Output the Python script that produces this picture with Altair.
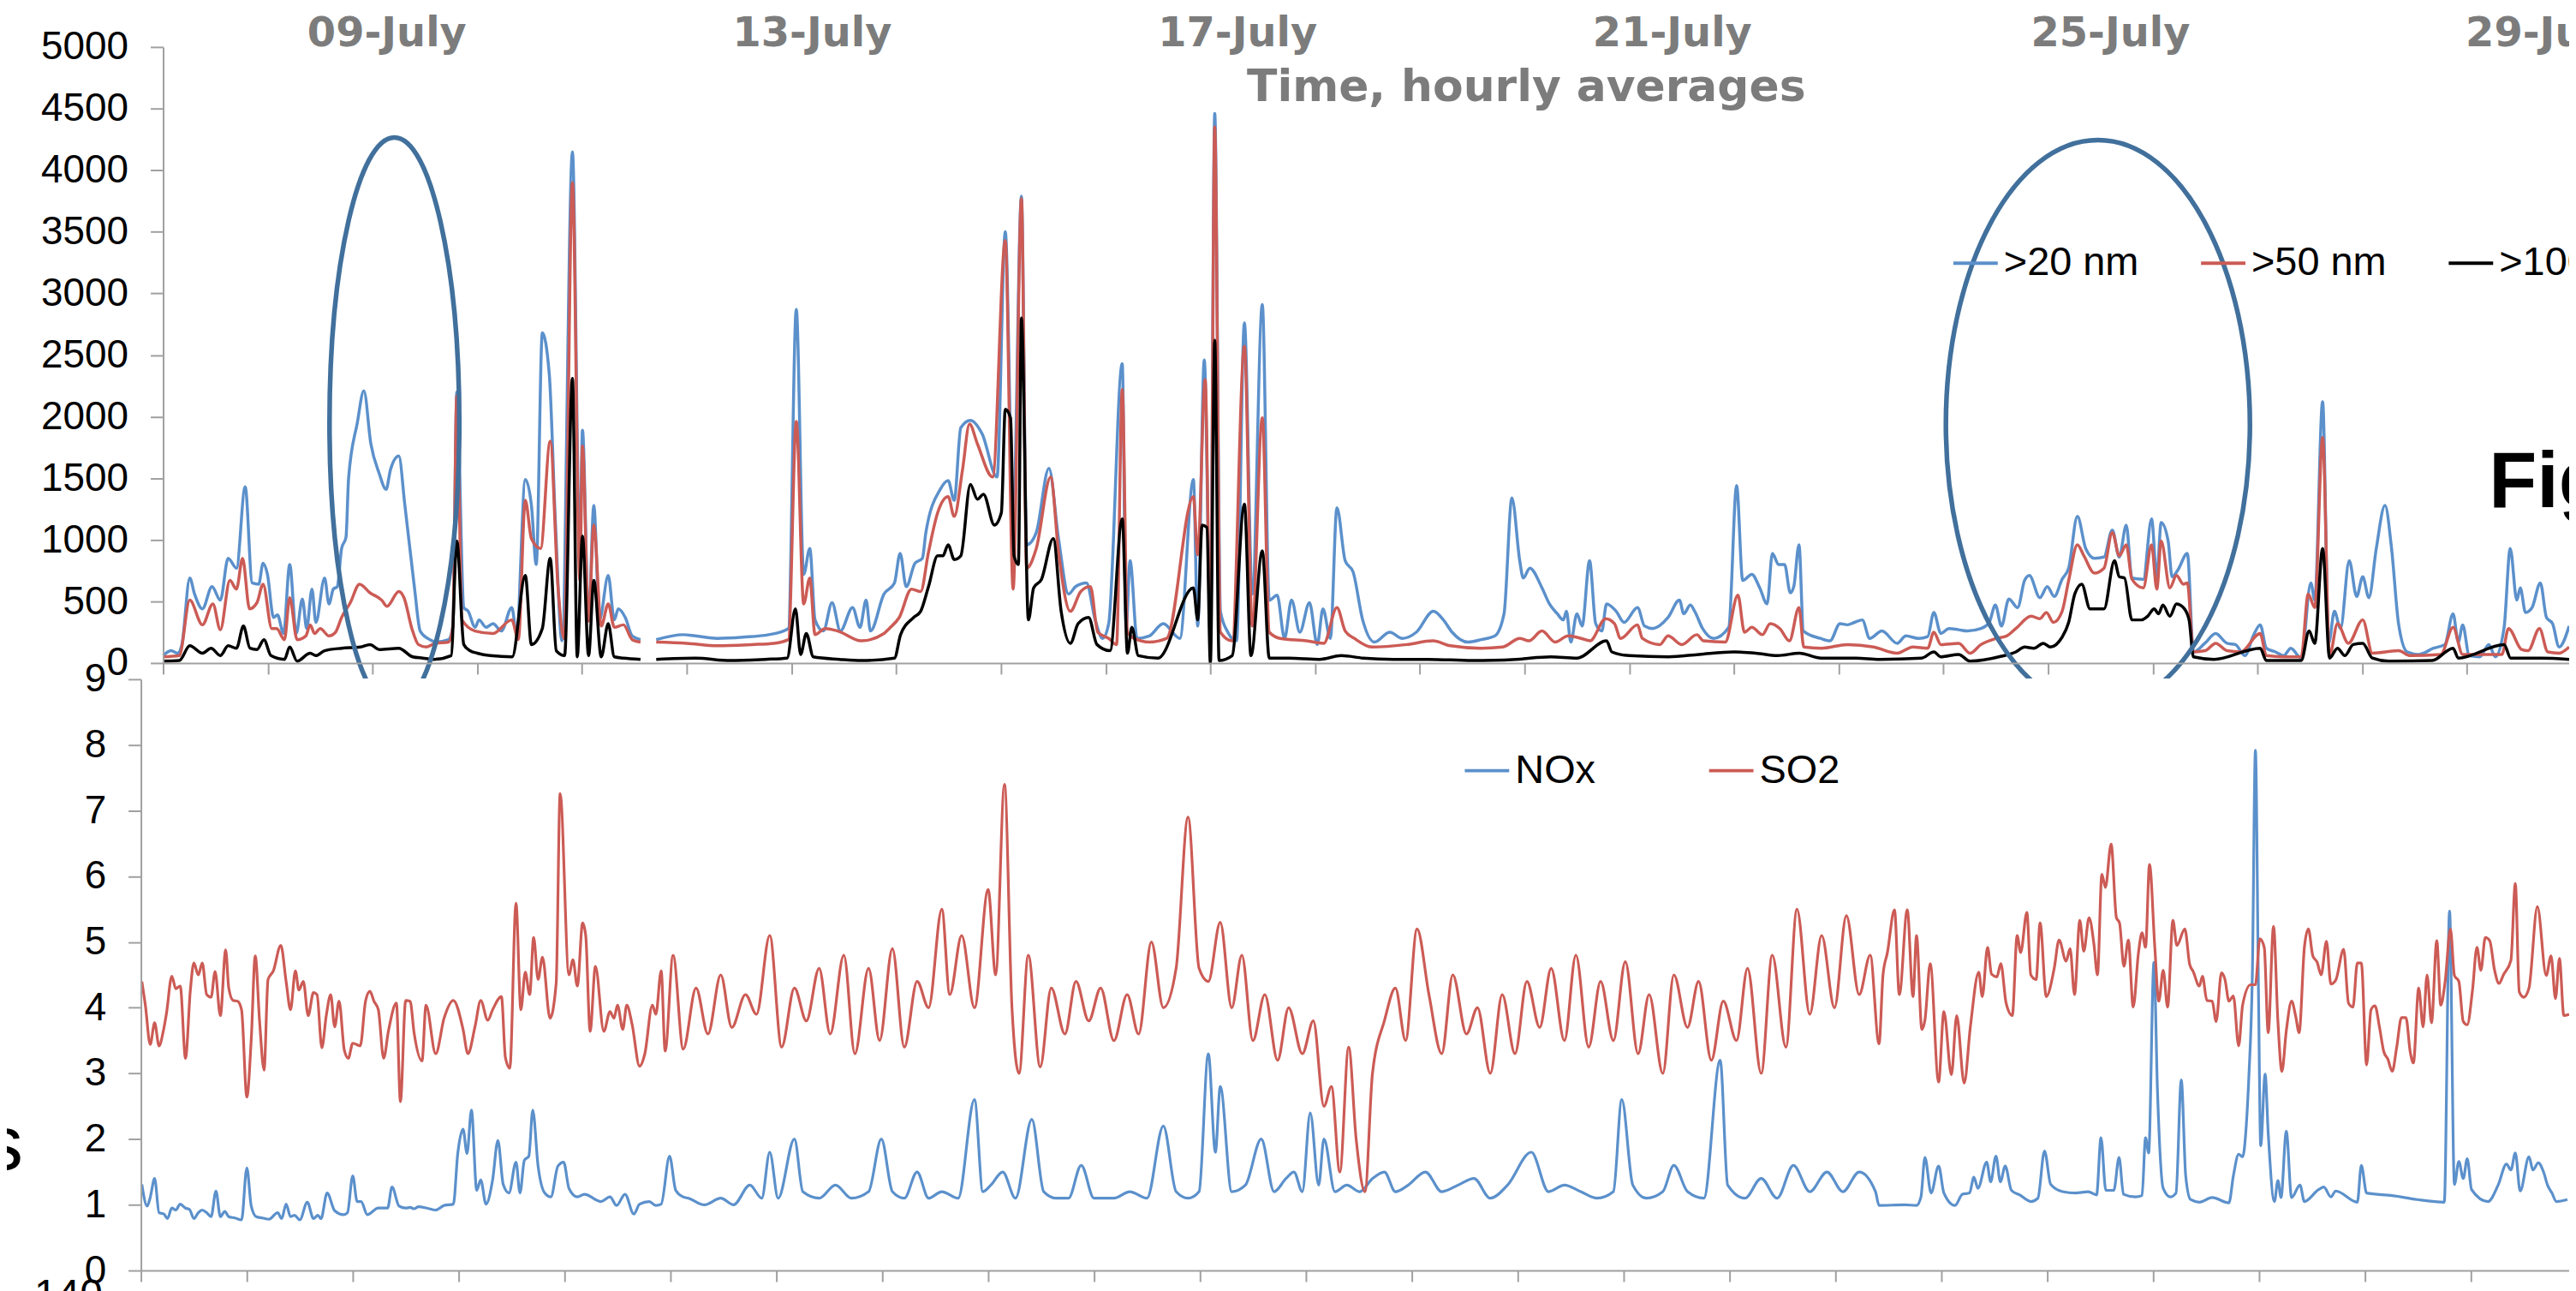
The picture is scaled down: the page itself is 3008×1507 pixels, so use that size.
import altair as alt
import pandas as pd

# ---------------- data (hour since start of record, value) ----------------
# particle number concentrations, top panel
N20 = [(0,60),(1.8,100),(3.3,80),(4.3,150),(6.1,690),(7.2,560),(9.0,440),(11.2,620),(13.1,510),(14.9,850),
       (16.8,770),(18.8,1430),(20.4,650),(21.9,640),(22.9,810),(23.9,720),(25.3,370),(26.2,390),(27.6,240),
       (29.0,800),(30.5,240),(31.9,520),(32.9,280),(34.1,600),(35.0,330),(37.0,690),(38.0,480),(39.0,600),
       (39.9,620),(40.9,930),(41.9,1020),(42.5,1500),(44.5,1950),(46.0,2210),(47.6,1780),(49.5,1540),
       (51.1,1410),(52.1,1570),(54.0,1680),(55.4,1280),(57.6,610),(58.9,260),(61.1,190),(62.4,170),(65.4,190),
       (66.4,300),(67.3,2200),(68.9,450),(69.9,420),(71.5,290),(72.4,350),(74.0,290),(75.6,320),(77.5,260),
       (79.9,450),(81.0,240),(83.0,1490),(84.4,1280),(85.5,800),(86.9,2680),(88.5,2340),(89.9,1140),(91.4,180),
       (93.8,4150),(95.5,880),(96.1,1890),(97.5,350),(98.7,1280),(100.0,350),(102.0,710),(103.4,350),
       (104.3,440),(105.9,370),(107.5,220),(109.4,190),(111.0,None),(113.0,190),(119.2,230),(122.0,220),
       (127.0,200),(132.9,210),(138.8,230),(143.3,280),(145.1,2870),(146.8,720),(148.2,930),(149.4,350),
       (151.3,260),(153.3,490),(155.2,260),(158.0,450),(159.7,290),(161.1,510),(162.1,260),(165.2,560),
       (167.6,650),(168.9,890),(170.3,620),(172.3,810),(174.0,850),(174.8,1060),(178.1,1410),(179.9,1480),
       (181.3,1320),(182.8,1910),(185.0,1970),(187.7,1860),(191.1,1510),(193.0,3500),(194.8,1140),
       (196.7,3790),(197.9,960),(200.1,1060),(203.0,1580),(205.2,1010),(207.5,560),(209.1,620),(211.6,650),
       (213.6,350),(215.3,200),(216.7,320),(219.8,2430),(220.7,300),(221.6,830),(223.2,200),(226.0,220),
       (229.2,320),(233.0,200),(236.1,1490),(237.1,300),(238.6,2460),(240.0,350),(241.0,4460),(242.3,420),
       (244.0,250),(246.0,180),(247.8,2760),(249.6,560),(251.9,2910),(253.5,510),(255.3,550),(257.0,200),
       (258.6,510),(260.5,250),(262.7,490),(264.5,150),(265.8,440),(267.5,200),(269.0,1260),(270.9,830),
       (272.7,740),(274.9,350),(277.6,170),(281.1,250),(284.0,200),(287.2,250),(291.1,420),(293.4,350),
       (295.4,250),(299.0,170),(302.1,190),(305.2,220),(307.3,400),(309.1,1340),(310.9,830),(311.7,690),
       (313.2,770),(316.0,610),(317.7,480),(319.5,400),(320.9,350),(321.6,420),(322.6,170),(324.0,400),
       (325.2,300),(326.9,830),(328.3,320),(329.7,260),(330.8,480),(333.0,420),(334.8,330),(337.9,450),
       (339.5,300),(341.4,280),(344.9,370),(347.5,510),(348.5,400),(350.0,470),(351.0,420),(352.8,280),
       (355.3,200),(358.8,290),(360.6,1440),(362.0,670),(364.1,720),(365.9,610),(367.6,480),(368.8,890),
       (370.2,800),(371.6,800),(372.9,570),(373.7,620),(374.9,960),(375.9,260),(379.8,200),(382.0,180),
       (384.3,320),(386.0,310),(387.6,330),(389.4,350),(391.1,200),(393.9,260),(397.4,160),(399.4,220),
       (402.3,200),(404.4,215),(405.8,410),(407.4,240),(409.3,280),(411.5,270),(413.5,260),(416.6,280),
       (418.5,330),(419.9,470),(421.3,300),(423.0,520),(425.0,450),(426.6,670),(427.7,710),(430.1,530),
       (431.8,620),(433.4,540),(435.2,680),(436.7,770),(438.7,1190),(440.6,930),(442.6,850),(444.8,860),
       (446.7,1080),(448.3,860),(449.9,1120),(451.2,690),(453.8,680),(455.7,1170),(456.9,700),(457.9,1140),
       (459.5,990),(460.4,700),(461.8,760),(463.9,890),(465.3,90),(467.9,160),(470.4,240),(473.0,160),
       (474.9,150),(477.1,60),(479.0,220),(480.6,310),(482.0,120),(484.1,90),(486.0,60),(487.6,120),(490.0,40),
       (492.2,650),(493.1,510),(494.9,2120),(496.3,160),(497.6,420),(499.0,280),(501.0,830),(502.7,540),
       (504.1,700),(505.5,530),(507.2,930),(509.2,1280),(510.7,930),(512.3,320),(514.3,90),(517.0,70),
       (520.3,120),(522.9,150),(524.8,400),(526.0,170),(527.0,310),(528.5,60),(530.9,50),(533.0,150),
       (534.5,50),(536.5,290),(537.9,930),(539.4,510),(540.2,610),(541.4,410),(542.9,450),(544.8,650),
       (546.2,370),(547.6,320),(549.1,130),(551.4,300)]

N50 = [(0,50),(3.7,60),(6.1,510),(9.0,310),(11.4,480),(13.1,270),(15.3,670),(16.8,600),(18.2,850),(19.8,440),
       (21.5,490),(22.9,640),(24.9,280),(26.0,280),(27.8,190),(29.0,530),(30.7,190),(32.7,220),(33.7,310),
       (34.7,240),(36.0,280),(38.0,220),(39.5,250),(40.9,370),(42.9,490),(45.0,640),(47.4,570),(50.1,510),
       (51.3,460),(54.0,580),(55.2,530),(57.0,280),(58.5,150),(60.3,130),(62.4,160),(65.4,170),(66.4,300),
       (67.3,2170),(68.5,350),(71.5,260),(75.6,240),(79.9,350),(81.4,190),(83.0,1320),(84.4,1010),(86.5,930),
       (88.7,1800),(90.5,610),(91.9,200),(93.8,3900),(95.5,670),(96.1,1760),(97.5,340),(98.7,1120),
       (100.4,300),(102.0,480),(103.4,290),(105.5,310),(107.5,190),(109.4,170),(111.0,None),(113.0,170),
       (120.0,160),(127.0,140),(135.0,150),(140.0,160),(143.3,190),(145.1,1960),(146.8,480),(148.2,690),
       (149.4,230),(151.7,280),(154.6,260),(160.0,180),(165.2,240),(166.4,280),(168.7,370),(171.5,600),
       (173.6,580),(175.4,900),(177.5,1220),(179.9,1350),(181.3,1190),(183.2,1570),(184.8,1940),(186.6,1780),
       (190.1,1510),(193.0,3430),(194.8,600),(196.7,3770),(197.9,770),(200.1,930),(203.4,1510),(205.2,900),
       (207.9,420),(210.3,580),(212.5,620),(214.2,250),(216.7,200),(218.5,150),(219.8,2220),(221.0,250),
       (222.5,200),(226.0,170),(230.0,200),(236.1,1350),(237.1,880),(238.8,2300),(240.0,200),(241.0,4350),
       (242.3,250),(245.0,180),(247.8,2570),(249.6,300),(251.9,1990),(253.5,250),(256.0,200),(262.0,180),
       (266.0,160),(269.0,450),(270.9,260),(273.0,200),(277.0,130),(285.0,150),(291.0,180),(295.0,140),
       (302.0,120),(307.0,130),(310.9,200),(313.0,180),(316.0,260),(319.0,170),(322.0,220),(325.0,200),
       (327.0,180),(330.6,360),(332.6,320),(334.0,200),(337.9,310),(339.0,200),(343.0,150),(344.9,220),
       (348.0,150),(351.5,230),(353.0,180),(358.0,170),(360.9,550),(362.4,250),(364.1,290),(366.5,230),
       (368.3,320),(370.5,280),(372.7,180),(374.9,450),(376.0,130),(380.0,120),(386.0,150),(392.0,130),
       (397.4,80),(401.0,130),(404.4,120),(405.8,250),(407.4,150),(411.5,160),(414.1,80),(416.6,150),
       (420.1,200),(422.5,220),(424.6,280),(428.1,380),(430.1,360),(431.6,410),(433.2,330),(435.2,420),
       (436.7,670),(438.7,960),(440.2,870),(442.6,730),(444.8,770),(446.7,1060),(448.3,870),(449.9,960),
       (451.2,680),(453.8,610),(455.7,960),(456.9,600),(457.9,990),(459.9,610),(461.4,710),(463.0,640),
       (463.9,650),(465.3,90),(468.0,100),(470.4,160),(473.0,100),(476.1,90),(480.6,240),(482.0,60),(486.0,50),
       (490.0,50),(491.6,560),(493.1,450),(494.9,1830),(496.5,60),(498.3,320),(500.8,160),(504.1,350),
       (506.3,80),(512.3,100),(515.0,60),(522.0,70),(524.8,290),(527.0,70),(536.0,70),(537.5,280),(540.5,110),
       (542.0,100),(544.6,280),(546.5,90),(549.1,80),(551.4,130)]

N100 = [(0,15),(3.7,20),(6.1,140),(9.0,80),(11.0,120),(13.1,60),(14.9,140),(16.8,120),(18.4,300),(19.9,120),
        (21.5,110),(23.1,190),(24.7,60),(27.8,30),(29.0,130),(30.7,15),(33.7,80),(35.0,60),(37.0,100),(40.9,120),
        (45.2,130),(47.4,150),(49.5,110),(54.0,120),(57.2,50),(59.5,40),(62.0,30),(66.0,60),(67.3,990),(68.9,150),
        (70.3,100),(72.0,80),(75.0,60),(80.0,50),(83.0,710),(84.4,150),(86.9,280),(88.7,850),(90.1,100),(92.0,60),
        (93.8,2310),(94.9,50),(96.1,1030),(97.5,60),(98.7,670),(100.4,50),(102.0,320),(103.4,50),(105.5,40),
        (109.4,30),(111.0,None),(113.0,30),(122.0,40),(130.0,20),(138.0,30),(143.0,40),(144.9,440),(146.1,70),
        (147.4,240),(149.0,50),(155.0,30),(160.0,20),(167.6,40),(169.0,230),(172.0,370),(173.6,420),(175.4,620),
        (177.5,870),(178.7,870),(179.9,960),(181.3,840),(182.8,870),(185.0,1450),(186.6,1330),(188.0,1370),
        (190.5,1120),(192.1,1220),(193.0,2060),(194.2,1990),(195.0,870),(196.0,800),(196.7,2800),(198.3,350),
        (199.5,610),(201.3,680),(204.0,1010),(205.8,420),(207.9,160),(209.7,320),(212.1,370),(214.0,150),
        (217.0,100),(219.8,1170),(221.0,80),(222.0,290),(223.5,60),(228.0,40),(236.1,610),(237.1,350),
        (238.1,1120),(239.2,1100),(240.0,0),(241.0,2620),(242.0,20),(245.0,60),(247.8,1290),(249.3,60),
        (251.9,910),(253.5,40),(258.0,40),(265.0,30),(270.0,60),(275.0,40),(282.0,30),(290.0,30),(300.0,20),
        (310.0,30),(318.0,50),(324.0,40),(330.8,180),(332.0,90),(336.0,60),(345.0,50),(352.0,70),(360.0,90),
        (365.0,80),(370.0,60),(375.0,80),(380.0,40),(388.0,40),(393.3,30),(403.0,40),(405.8,90),(407.4,50),
        (411.5,70),(414.1,15),(421.3,55),(424.6,90),(426.6,130),(428.7,120),(430.9,160),(432.5,130),(435.2,210),
        (436.7,330),(438.1,560),(439.7,640),(441.6,440),(444.8,440),(447.2,830),(448.3,700),(449.5,690),
        (451.2,350),(453.4,350),(454.8,380),(456.3,440),(457.3,400),(458.3,470),(459.9,380),(461.4,480),
        (463.0,450),(464.3,350),(465.3,50),(470.0,30),(480.6,120),(482.0,20),(490.0,20),(491.8,260),(493.1,160),
        (494.9,930),(496.5,40),(498.3,120),(500.0,60),(501.9,150),(504.1,160),(506.3,40),(510.0,15),(520.0,20),
        (524.8,120),(526.0,40),(536.5,150),(538.0,40),(545.0,40),(551.4,30)]

# gas concentrations, bottom panel
NOX = [(0.2,1.31),(1.4,0.98),(2.1,1.11),(3.1,1.40),(4.1,0.88),(5.2,0.86),(6.0,0.79),(7.0,0.95),(7.9,0.92),
       (8.9,1.01),(10.1,0.95),(11.0,0.93),(12.0,0.79),(13.0,0.88),(13.9,0.92),(14.9,0.88),(15.9,0.82),(17.0,1.21),
       (18.0,0.82),(19.0,0.90),(19.9,0.82),(21.3,0.80),(22.8,0.77),(24.0,1.56),(25.0,0.98),(26.1,0.82),(27.5,0.80),
       (29.0,0.78),(31.0,0.88),(31.9,0.79),(32.9,1.01),(33.9,0.82),(34.8,0.84),(36.0,0.77),(37.7,1.04),(39.1,0.79),
       (40.1,0.84),(40.8,0.79),(42.2,1.18),(43.9,0.91),(45.9,0.85),(46.8,0.88),(48.0,1.44),(49.0,1.05),(49.9,1.05),
       (51.3,0.85),(53.8,0.95),(55.9,0.95),(56.9,1.27),(58.5,0.98),(60.0,0.95),(61.0,0.96),(61.9,0.94),(62.9,0.97),
       (64.8,0.95),(66.8,0.92),(68.7,0.99),(70.8,1.01),(71.8,1.78),(73.0,2.15),(73.9,1.78),(74.9,2.44),(76.1,1.22),
       (77.0,1.38),(78.2,1.01),(79.7,1.38),(80.9,1.98),(82.1,1.31),(83.4,1.18),(85.0,1.65),(85.9,1.18),(86.9,1.68),
       (87.9,1.74),(88.8,2.44),(90.0,1.59),(91.5,1.18),(92.9,1.12),(94.5,1.59),(95.8,1.65),(97.0,1.25),(98.9,1.12),
       (100.5,1.16),(104.3,1.05),(106.3,1.12),(107.8,0.99),(109.7,1.16),(111.7,0.86),(113.0,1.01),(115.2,1.05),
       (116.7,0.99),(117.9,1.01),(119.8,1.74),(121.2,1.22),(122.9,1.12),(124.1,1.1),(127.7,1.0),(131.4,1.1),
       (134.3,1.0),(138.0,1.3),(140.7,1.1),(142.5,1.8),(144.4,1.1),(148.1,2.0),(150.0,1.2),(153.7,1.1),(157.4,1.3),
       (161.0,1.1),(164.9,1.2),(167.8,2.0),(170.3,1.2),(173.0,1.1),(175.9,1.5),(178.5,1.1),(181.5,1.2),(185.2,1.1),
       (188.9,2.6),(190.8,1.2),(192.6,1.3),(195.3,1.5),(198.2,1.1),(201.9,2.3),(204.6,1.2),(207.5,1.1),(210.2,1.1),
       (213.1,1.6),(216.0,1.1),(220.5,1.1),(224.1,1.2),(228.0,1.1),(231.7,2.2),(234.6,1.2),(237.3,1.1),(239.8,1.2),
       (241.9,3.3),(243.5,1.8),(244.6,2.8),(247.2,1.2),(250.3,1.3),(253.9,2.0),(256.8,1.2),(259.5,1.4),(261.3,1.5),
       (263.2,1.2),(265.0,2.4),(266.9,1.3),(268.1,2.0),(270.6,1.2),(273.3,1.3),(276.2,1.2),(279.1,1.4),(281.8,1.5),
       (284.3,1.2),(287.2,1.3),(291.1,1.5),(294.8,1.2),(298.5,1.3),(302.1,1.4),(305.8,1.1),(309.7,1.3),(315.1,1.8),
       (319.0,1.2),(322.6,1.3),(326.3,1.2),(330.0,1.1),(333.7,1.2),(335.6,2.6),(338.1,1.3),(341.2,1.1),(344.9,1.2),
       (347.4,1.6),(350.5,1.2),(354.2,1.1),(357.9,3.2),(359.6,1.3),(363.5,1.1),(367.2,1.4),(370.8,1.1),(374.5,1.6),
       (378.2,1.2),(382.1,1.5),(385.7,1.2),(389.4,1.5),(393.1,1.2),(393.9,0.99),(399.7,1.00),(402.4,0.99),
       (403.4,1.12),(404.3,1.72),(405.7,1.18),(407.4,1.59),(408.6,1.18),(411.1,0.99),(412.8,1.16),(414.4,1.18),
       (415.4,1.42),(416.3,1.25),(418.3,1.65),(419.2,1.35),(420.4,1.74),(421.4,1.35),(422.5,1.59),(423.9,1.22),
       (425.8,1.15),(428.3,1.05),(429.9,1.10),(431.4,1.82),(432.8,1.31),(435.5,1.20),(438.4,1.18),(441.3,1.20),
       (443.2,1.15),(444.2,2.02),(445.3,1.22),(447.1,1.22),(448.3,1.72),(449.3,1.16),(452.0,1.12),(453.5,1.14),
       (454.3,2.02),(455.0,1.79),(456.2,4.69),(457.0,2.74),(458.3,1.25),(459.9,1.12),(461.2,1.18),(462.4,2.90),
       (463.4,1.44),(464.5,1.08),(466.5,1.04),(469.4,1.11),(473.2,1.03),(474.2,1.44),(475.4,1.77),(476.3,1.73),
       (477.1,2.18),(477.7,2.93),(478.5,4.49),(479.2,7.92),(479.9,4.20),(480.4,1.90),(481.4,2.99),(482.1,2.09),
       (483.5,1.05),(484.3,1.37),(485.0,1.11),(486.2,2.12),(487.4,1.11),(489.3,1.30),(490.3,1.05),(493.5,1.23),
       (494.7,1.27),(496.3,1.12),(497.4,1.21),(502.3,1.04),(503.2,1.60),(504.4,1.18),(510.2,1.14),(515.8,1.08),
       (522.0,1.04),(523.2,5.47),(524.3,1.31),(525.3,1.66),(526.3,1.40),(527.2,1.70),(528.2,1.23),(531.9,1.05),
       (534.2,1.30),(536.1,1.62),(537.1,1.53),(538.1,1.79),(539.2,1.21),(541.2,1.73),(542.1,1.53),(543.3,1.64),
       (544.5,1.50),(545.4,1.30),(546.4,1.18),(547.4,1.05),(549.9,1.08)]

SO2 = [(0.2,4.40),(1.0,4.04),(2.1,3.44),(3.1,3.77),(4.1,3.42),(5.0,3.62),(5.8,3.92),(7.0,4.48),(7.9,4.29),
       (8.9,4.33),(10.1,3.23),(11.2,4.27),(12.0,4.68),(13.0,4.50),(13.9,4.68),(14.9,4.20),(15.9,4.16),(16.8,4.55),
       (18.0,3.88),(19.2,4.88),(19.9,4.30),(20.9,4.11),(21.9,4.10),(22.8,3.97),(24.0,2.64),(25.0,3.52),(25.9,4.79),
       (26.9,3.78),(27.9,3.05),(28.8,4.43),(30.0,4.56),(31.7,4.95),(32.9,4.40),(33.9,3.97),(35.0,4.56),(35.8,4.27),
       (36.8,4.40),(37.9,3.88),(39.1,4.23),(39.9,4.20),(41.0,3.39),(42.0,3.88),(43.0,4.20),(43.9,3.71),(44.9,4.10),
       (46.1,3.35),(47.0,3.23),(48.0,3.46),(49.7,3.42),(50.9,4.10),(51.9,4.25),(52.8,4.10),(53.8,3.97),(55.0,3.23),
       (56.1,3.65),(57.9,4.07),(58.8,2.57),(60.0,4.11),(61.0,4.10),(61.9,3.62),(63.7,3.19),(64.6,4.04),(66.8,3.30),
       (68.7,3.84),(70.8,4.11),(73.0,3.67),(74.1,3.30),(75.7,3.71),(77.0,4.11),(78.6,3.81),(79.7,3.97),(81.7,4.17),
       (82.6,3.24),(83.6,3.08),(85.0,5.59),(86.1,3.97),(87.1,4.54),(88.1,4.20),(89.0,5.07),(90.0,4.43),(91.0,4.77),
       (92.7,3.84),(94.1,4.37),(95.0,7.26),(97.0,4.50),(97.9,4.73),(98.9,4.33),(100.1,5.29),(100.8,5.10),
       (101.8,3.64),(103.0,4.63),(104.9,3.64),(106.3,3.94),(107.2,3.84),(108.0,4.04),(109.2,3.67),(110.1,4.04),
       (111.3,3.75),(113.0,3.11),(114.2,3.30),(115.9,4.04),(116.7,3.90),(117.9,4.56),(118.8,3.34),(120.6,4.80),
       (122.9,3.37),(125.8,4.3),(128.5,3.6),(131.4,4.5),(133.9,3.7),(137.0,4.2),(139.5,3.9),(142.5,5.1),(145.2,3.4),
       (148.1,4.3),(150.8,3.8),(153.7,4.6),(156.2,3.6),(159.3,4.8),(161.8,3.3),(164.9,4.6),(167.4,3.5),(170.3,4.9),
       (173.0,3.4),(175.9,4.4),(178.5,4.0),(181.5,5.5),(183.3,4.2),(186.0,5.1),(188.9,4.0),(192.0,5.8),(193.7,4.5),
       (195.7,7.4),(197.4,4.0),(199.0,3.0),(201.1,4.8),(203.8,3.1),(206.3,4.3),(209.4,3.6),(211.9,4.4),(214.8,3.8),
       (217.5,4.3),(220.5,3.5),(223.5,4.2),(226.1,3.6),(229.0,5.0),(231.7,4.0),(234.6,4.6),(237.3,6.9),(239.8,4.6),
       (241.9,4.4),(244.6,5.3),(247.2,4.0),(249.5,4.8),(252.0,3.5),(254.7,4.2),(257.6,3.2),(260.1,4.0),(263.2,3.3),
       (265.7,3.8),(268.1,2.5),(269.8,2.8),(271.7,1.5),(273.7,3.4),(275.4,2.0),(277.4,1.2),(279.1,3.0),(281.8,3.8),
       (284.3,4.3),(286.6,3.5),(289.2,5.2),(291.9,4.2),(294.8,3.3),(297.3,4.5),(300.4,3.6),(302.9,4.0),(305.8,3.0),
       (308.5,4.2),(311.4,3.3),(314.1,4.4),(317.0,3.7),(319.6,4.6),(322.6,3.5),(325.2,4.8),(328.1,3.4),(330.8,4.4),
       (333.7,3.5),(336.4,4.7),(339.3,3.3),(341.8,4.2),(344.9,3.0),(347.4,4.5),(350.5,3.7),(353.0,4.4),(355.9,3.2),
       (358.6,4.1),(361.6,3.5),(364.1,4.6),(367.2,3.0),(369.7,4.8),(372.8,3.4),(375.3,5.5),(378.2,3.9),(380.9,5.1),
       (383.8,4.0),(386.5,5.4),(389.4,4.2),(391.9,4.8),(393.9,3.45),(394.8,4.50),(395.8,4.84),(397.4,5.49),
       (398.5,4.20),(400.3,5.49),(401.6,4.17),(402.4,5.10),(403.6,3.67),(404.3,3.81),(405.5,4.67),(407.4,2.87),
       (408.6,3.94),(410.3,2.98),(411.5,3.88),(413.2,2.85),(414.6,3.71),(416.5,4.54),(417.3,4.17),(418.5,4.92),
       (419.4,4.51),(420.6,4.47),(421.5,4.67),(422.7,4.07),(424.1,3.88),(425.2,5.10),(426.0,4.84),(427.4,5.45),
       (428.3,4.50),(429.5,4.43),(430.4,5.29),(431.8,4.17),(433.6,4.60),(434.7,5.03),(436.3,4.71),(437.2,4.90),
       (438.2,4.20),(439.4,5.33),(440.3,4.86),(441.5,5.37),(442.6,4.97),(443.4,4.50),(444.4,6.03),(445.2,5.83),
       (446.5,6.49),(447.7,5.37),(448.4,5.29),(449.4,4.63),(450.4,5.03),(451.5,4.01),(452.7,4.84),(453.5,5.14),
       (454.3,4.92),(455.2,6.18),(456.4,4.92),(457.3,4.10),(458.3,4.57),(459.3,4.01),(460.5,5.33),(461.4,4.95),
       (463.2,5.20),(464.3,4.66),(465.1,4.55),(466.5,4.33),(467.2,4.48),(468.2,4.11),(469.4,4.10),(470.3,3.79),
       (471.5,4.53),(472.3,4.43),(473.2,4.10),(474.2,4.18),(475.4,3.42),(476.3,4.04),(478.1,4.35),(479.2,4.35),
       (480.2,5.05),(481.2,4.92),(482.1,3.62),(483.3,5.24),(484.3,3.79),(485.2,3.03),(486.2,3.65),(487.4,4.10),
       (488.3,3.88),(489.1,3.62),(490.3,4.92),(491.2,5.20),(492.2,4.79),(493.2,4.69),(494.1,4.50),(495.3,5.01),
       (496.3,4.36),(497.4,4.42),(499.2,4.89),(500.3,4.07),(501.3,4.01),(502.3,4.68),(503.2,4.68),(504.4,3.13),
       (505.4,3.97),(506.3,4.03),(507.3,3.71),(508.3,3.33),(509.2,3.22),(510.2,3.03),(511.2,3.39),(512.3,3.85),
       (513.3,3.85),(514.3,3.32),(515.0,3.16),(516.2,4.30),(517.2,3.71),(518.1,4.50),(519.1,3.77),(520.3,5.02),
       (521.2,4.04),(522.2,4.40),(523.4,5.20),(524.3,4.49),(525.3,4.40),(526.3,3.79),(527.2,3.74),(528.4,4.27),
       (529.4,4.92),(530.3,4.57),(531.3,5.07),(532.3,5.02),(533.4,4.57),(534.4,4.37),(535.4,4.50),(537.1,4.72),
       (538.1,5.89),(539.0,4.24),(540.0,4.16),(541.2,4.30),(543.1,5.54),(545.1,4.49),(546.2,4.79),(547.2,4.14),
       (548.1,4.75),(549.1,3.88),(550.3,3.90)]

TOP_NAMES = [">20 nm", ">50 nm", ">100 nm"]
LOW_NAMES = ["NOx", "SO2"]
TOP_TICKS = list(range(0, 5001, 500))
LOW_TICKS = list(range(0, 10))
DAY_TICKS = list(range(0, 529, 24))
DATES = ["09-July", "13-July", "17-July", "21-July", "25-July", "29-July"]
XTITLE = "Time, hourly averages"
ELLIPSE_HOUR = [53.0, 443.4]
ELLIPSE_VALUE = [1950, 1935]

# ---------------- styling / layout ----------------
BLUE, RED, BLACK, RING = "#5B90CB", "#CC5B55", "#000000", "#41709C"
GRAY = "#A0A0A0"
FONT = "Liberation Sans"
W, H = 3000, 1499


def rows(pairs, name):
    out, seg = [], 0
    for h, v in pairs:
        if v is None:
            seg += 1
            continue
        out.append({"hour": h, "value": v, "series": name, "seg": f"{name}|{seg}"})
    return out


top_df = pd.DataFrame(rows(N20, TOP_NAMES[0]) + rows(N50, TOP_NAMES[1]) + rows(N100, TOP_NAMES[2]))
low_df = pd.DataFrame(rows(NOX, LOW_NAMES[0]) + rows(SO2, LOW_NAMES[1]))

x_top = alt.Scale(domain=[0, 551.4], range=[183, W], nice=False, zero=False)
y_top = alt.Scale(domain=[0, 5000], range=[766, 45], nice=False)
x_low = alt.Scale(domain=[0, 550.3], range=[157, W], nice=False, zero=False)
y_low = alt.Scale(domain=[0, 9], range=[1477, 785], nice=False)


def y_axis(values, offset, fmt):
    return alt.Axis(orient="left", offset=offset, values=values, format=fmt, title=None, grid=False,
                    labelFont=FONT, labelFontSize=46, labelColor="black", labelPadding=26,
                    tickSize=15, tickWidth=2, tickColor=GRAY, domainColor=GRAY, domainWidth=2, zindex=1)


def x_axis(offset):
    return alt.Axis(orient="bottom", offset=offset, values=DAY_TICKS, labels=False, title=None, grid=False,
                    tickSize=13, tickWidth=2, tickColor=GRAY, domainColor=GRAY, domainWidth=2, zindex=1)


def legend(x, y, pad):
    return alt.Legend(orient="none", legendX=x, legendY=y, direction="horizontal", title=None,
                      symbolType="stroke", symbolSize=2704, symbolStrokeWidth=4,
                      labelFont=FONT, labelFontSize=47, labelColor="black", labelOffset=5,
                      labelLimit=600, columnPadding=pad, padding=0)


top_lines = alt.Chart(top_df).mark_line(strokeWidth=3.5, interpolate="monotone").encode(
    x=alt.X("hour:Q", scale=x_top, axis=x_axis(-(H - 766))),
    y=alt.Y("value:Q", scale=y_top, axis=y_axis(TOP_TICKS, -183, "d")),
    color=alt.Color("series:N", scale=alt.Scale(domain=TOP_NAMES, range=[BLUE, RED, BLACK]),
                    legend=legend(2277, 270, 64)),
    detail="seg:N",
)

low_lines = alt.Chart(low_df).mark_line(strokeWidth=3.2, interpolate="monotone").encode(
    x=alt.X("hour:Q", scale=x_low, axis=x_axis(-(H - 1477))),
    y=alt.Y("value:Q", scale=y_low, axis=y_axis(LOW_TICKS, -157, "d")),
    color=alt.Color("series:N", scale=alt.Scale(domain=LOW_NAMES, range=[BLUE, RED]),
                    legend=legend(1705, 864, 125)),
    detail="seg:N",
)


def ellipse_path(ratio):
    k = 0.5523
    a = ratio
    return (f"M0,-1C{a*k:.4f},-1,{a:.4f},{-k},{a:.4f},0C{a:.4f},{k},{a*k:.4f},1,0,1"
            f"C{-a*k:.4f},1,{-a:.4f},{k},{-a:.4f},0C{-a:.4f},{-k},{-a*k:.4f},-1,0,-1Z")


def ellipse(i, half_w, half_h):
    df = pd.DataFrame({"hour": [ELLIPSE_HOUR[i]], "value": [ELLIPSE_VALUE[i]]})
    return alt.Chart(df).mark_point(shape=ellipse_path(half_w / half_h), size=(2 * half_h) ** 2,
                                    filled=False, color=RING, strokeWidth=5.5, opacity=1).encode(
        x=alt.X("hour:Q", scale=x_top, axis=None),
        y=alt.Y("value:Q", scale=y_top, axis=None),
    )


one = pd.DataFrame({"k": [0]})
cover = alt.Chart(one).mark_rect(color="white").encode(
    x=alt.value(0), x2=alt.value(W), y=alt.value(784), y2=alt.value(H + 40))


def label(text, x, y, **kw):
    return alt.Chart(one).mark_text(text=text, **kw).encode(x=alt.value(x), y=alt.value(y))


blur = dict(font="DejaVu Sans", fontWeight="bold", color="#666666", opacity=0.85,
            align="center", baseline="middle")
date_x = [445, 943, 1441, 1950, 2463, 2972]
texts = [label(d, x, 30, fontSize=48, **blur) for d, x in zip(DATES, date_x)]
texts.append(label(XTITLE, 1779, 92, fontSize=52, **blur))
texts.append(label("Figure", 2906, 584, font=FONT, fontSize=92, fontWeight="bold", color="black",
                   align="left", baseline="alphabetic"))
texts.append(label("s", 19, 1359, font=FONT, fontSize=90, color="black", align="right", baseline="alphabetic"))
texts.append(label("140", 32, 1521, font=FONT, fontSize=48, color="black", align="left", baseline="alphabetic"))

chart = alt.layer(
    top_lines, ellipse(0, 76, 334), ellipse(1, 178, 333), cover, low_lines, *texts
).resolve_scale(
    x="independent", y="independent", color="independent"
).resolve_axis(
    x="independent", y="independent"
).resolve_legend(
    color="independent"
).properties(
    width=W, height=H, padding=0, autosize=alt.AutoSizeParams(type="none")
).configure_view(stroke="transparent")

chart.save("out.html", embed_options={"renderer": "svg", "actions": False})
